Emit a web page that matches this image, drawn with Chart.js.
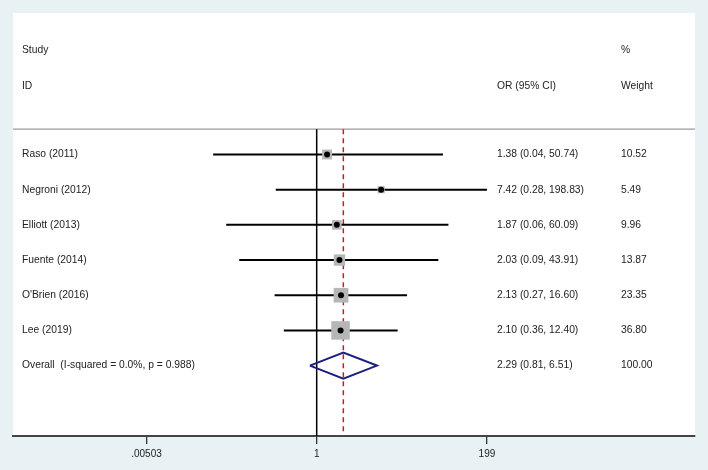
<!DOCTYPE html>
<html>
<head>
<meta charset="utf-8">
<script src="https://cdn.jsdelivr.net/npm/chart.js@4.4.1/dist/chart.umd.min.js"></script>
<style>
html,body{margin:0;padding:0;background:#e8f1f4;}
canvas{display:block;}
</style>
</head>
<body>
<canvas id="c" width="708" height="470"></canvas>
<script>
// ---- data ----
const studies = ["Raso (2011)", "Negroni (2012)", "Elliott (2013)", "Fuente (2014)", "O'Brien (2016)", "Lee (2019)"];
const orValues = [1.38, 7.42, 1.87, 2.03, 2.13, 2.10];
const ciLower = [0.04, 0.28, 0.06, 0.09, 0.27, 0.36];
const ciUpper = [50.74, 198.83, 60.09, 43.91, 16.60, 12.40];
const weights = [10.52, 5.49, 9.96, 13.87, 23.35, 36.80];
const overallLabel = "Overall  (I-squared = 0.0%, p = 0.988)";
const overallOR = 2.29;
const overallLower = 0.81;
const overallUpper = 6.51;
const overallWeight = 100.00;
const xTickValues = [0.00503, 1, 199];
const xTickLabels = [".00503", "1", "199"];

const FONT = "'Liberation Sans', Arial, sans-serif";
const fmt = v => v.toFixed(2);

const nRows = studies.length;
const headerStudyY = -2.97, headerIdY = -1.95, sepY = -0.72;
const yMin = -4.02, yMax = 8.0;

const datasets = [];
// CI lines
studies.forEach((s, i) => {
  datasets.push({
    type: 'line', data: [{x: ciLower[i], y: i}, {x: ciUpper[i], y: i}],
    borderColor: '#000', borderWidth: 2, pointRadius: 0, order: 3
  });
});
// grey weight squares
datasets.push({
  type: 'scatter',
  data: studies.map((s, i) => ({x: orValues[i], y: i})),
  pointStyle: 'rect',
  pointRadius: weights.map(w => 2.15 * Math.sqrt(w)),
  backgroundColor: '#b6b6b6', borderWidth: 0, order: 2
});
// point estimates
datasets.push({
  type: 'scatter',
  data: studies.map((s, i) => ({x: orValues[i], y: i})),
  pointStyle: 'circle', pointRadius: 3,
  backgroundColor: '#000', borderWidth: 0, order: 1
});
// overall diamond
const dy = nRows;
datasets.push({
  type: 'line',
  data: [
    {x: overallLower, y: dy}, {x: overallOR, y: dy - 0.37},
    {x: overallUpper, y: dy}, {x: overallOR, y: dy + 0.37},
    {x: overallLower, y: dy}
  ],
  borderColor: '#1a1f80', borderWidth: 2, pointRadius: 0, fill: false, tension: 0, order: 1
});
// null line at 1
datasets.push({
  type: 'line', data: [{x: 1, y: sepY}, {x: 1, y: yMax}],
  borderColor: '#000', borderWidth: 1.5, pointRadius: 0, order: 4
});
// overall dashed line
datasets.push({
  type: 'line', data: [{x: overallOR, y: sepY}, {x: overallOR, y: yMax}],
  borderColor: '#c0202a', borderWidth: 1.5, borderDash: [5, 4], pointRadius: 0, order: 4
});

const bgPlugin = {
  id: 'bg',
  beforeDraw(chart) {
    const {ctx, chartArea: a} = chart;
    ctx.save();
    ctx.fillStyle = '#e8f1f4';
    ctx.fillRect(0, 0, chart.width, chart.height);
    ctx.fillStyle = '#ffffff';
    ctx.fillRect(a.left, a.top, a.right - a.left, a.bottom - a.top);
    ctx.restore();
  },
  beforeDatasetsDraw(chart) {
    const {ctx, chartArea: a, scales: {y}} = chart;
    ctx.save();
    ctx.strokeStyle = '#9a9a9a';
    ctx.lineWidth = 1.2;
    const py = y.getPixelForValue(sepY);
    ctx.beginPath(); ctx.moveTo(a.left, py); ctx.lineTo(a.right, py); ctx.stroke();
    ctx.restore();
  },
  afterDatasetsDraw(chart) {
    const {ctx, scales: {y}} = chart;
    ctx.save();
    ctx.fillStyle = '#222';
    ctx.font = '10.3px ' + FONT;
    ctx.textBaseline = 'middle';
    ctx.textAlign = 'left';
    const colStudy = 22, colOR = 497, colW = 621;
    ctx.fillText('Study', colStudy, y.getPixelForValue(headerStudyY));
    ctx.fillText('%', colW, y.getPixelForValue(headerStudyY));
    ctx.fillText('ID', colStudy, y.getPixelForValue(headerIdY));
    ctx.fillText('OR (95% CI)', colOR, y.getPixelForValue(headerIdY));
    ctx.fillText('Weight', colW, y.getPixelForValue(headerIdY));
    studies.forEach((s, i) => {
      const py = y.getPixelForValue(i);
      ctx.fillText(s, colStudy, py);
      ctx.fillText(`${fmt(orValues[i])} (${fmt(ciLower[i])}, ${fmt(ciUpper[i])})`, colOR, py);
      ctx.fillText(fmt(weights[i]), colW, py);
    });
    const po = y.getPixelForValue(nRows);
    ctx.fillText(overallLabel, colStudy, po);
    ctx.fillText(`${fmt(overallOR)} (${fmt(overallLower)}, ${fmt(overallUpper)})`, colOR, po);
    ctx.fillText(fmt(overallWeight), colW, po);
    ctx.restore();
  }
};

new Chart(document.getElementById('c'), {
  type: 'scatter',
  data: {datasets},
  options: {
    responsive: false,
    animation: false,
    layout: {padding: {left: 12, right: 10, top: 13, bottom: 6}},
    plugins: {legend: {display: false}, tooltip: {enabled: false}},
    scales: {
      x: {
        type: 'logarithmic',
        min: Math.exp(-9.44), max: Math.exp(11.76),
        afterBuildTicks(scale) { scale.ticks = xTickValues.map(v => ({value: v})); },
        ticks: {
          autoSkip: false, maxRotation: 0, padding: 4,
          color: '#222', font: {family: FONT, size: 10},
          callback: (v) => { const k = xTickValues.indexOf(v); return k >= 0 ? xTickLabels[k] : ''; }
        },
        grid: {drawOnChartArea: false, drawTicks: true, tickLength: 8, color: '#333', lineWidth: 1.3},
        border: {display: true, color: '#444', width: 2}
      },
      y: {
        type: 'linear', reverse: true, min: yMin, max: yMax, display: false
      }
    }
  },
  plugins: [bgPlugin]
});
</script>
</body>
</html>
